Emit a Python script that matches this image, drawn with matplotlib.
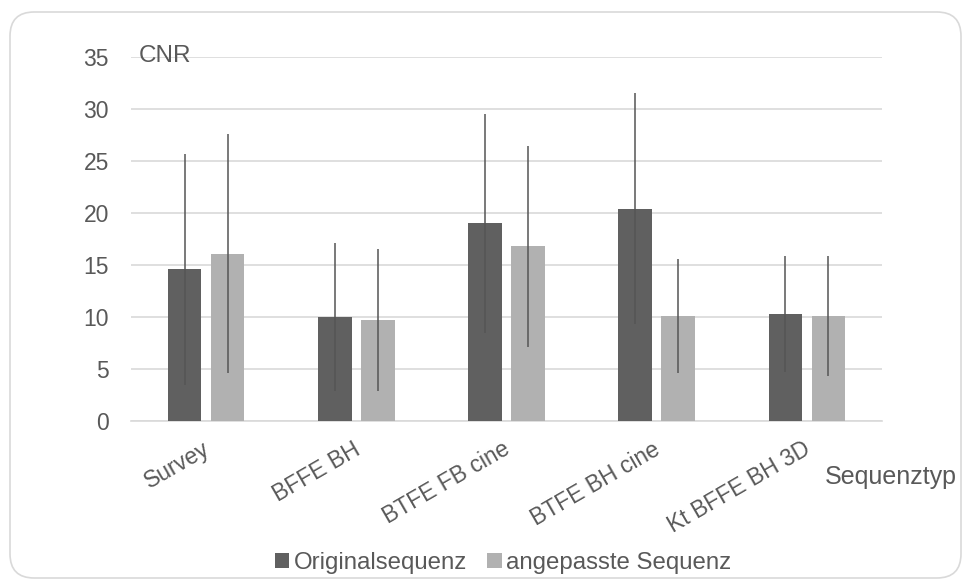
import matplotlib
matplotlib.use("Agg")
import matplotlib.pyplot as plt
import matplotlib.transforms as mtransforms
import numpy as np
from matplotlib.patches import FancyBboxPatch

plt.rcParams['font.family'] = ['Liberation Sans', 'DejaVu Sans']

# Sequence types and CNR values (mean and standard deviation)
categories = ["Survey", "BFFE BH", "BTFE FB cine", "BTFE BH cine", "Kt BFFE BH 3D"]
original_mean = [14.6, 10.0, 19.0, 20.4, 10.3]
original_sd = [11.1, 7.1, 10.5, 11.1, 5.55]
adapted_mean = [16.1, 9.7, 16.8, 10.1, 10.1]
adapted_sd = [11.45, 6.8, 9.65, 5.5, 5.75]
series_names = ["Originalsequenz", "angepasste Sequenz"]
y_ticks = [0, 5, 10, 15, 20, 25, 30, 35]

dark = "#606060"
light = "#b1b1b1"
text_col = "#595959"
grid_col = "#d9d9d9"

fig = plt.figure(figsize=(9.65, 5.8), dpi=100)
fig.patch.set_facecolor("white")

# rounded chart-area frame
frame = FancyBboxPatch((10 / 965, 2 / 580), 951 / 965, 566 / 580,
                       boxstyle="round,pad=0,rounding_size=0.025",
                       transform=fig.transFigure, facecolor="none",
                       edgecolor=grid_col, linewidth=1.2, mutation_aspect=965 / 580)
fig.patches.append(frame)

ax = fig.add_axes([131 / 965, 1 - 421 / 580, 751 / 965, 364 / 580])
x = np.arange(len(categories))
w = 0.224
off = 0.143

err_kw = dict(ecolor="#555555", elinewidth=1.1, capsize=0)
ax.bar(x - off, original_mean, w, color=dark, yerr=original_sd,
       error_kw=err_kw, label=series_names[0], zorder=3)
ax.bar(x + off, adapted_mean, w, color=light, yerr=adapted_sd,
       error_kw=err_kw, label=series_names[1], zorder=3)

ax.set_xlim(-0.5, len(categories) - 0.5)
ax.set_ylim(0, 35)
ax.set_yticks(y_ticks)
ax.yaxis.grid(True, color=grid_col, linewidth=1.2, zorder=0)
ax.set_axisbelow(True)
for s in ["top", "right", "left"]:
    ax.spines[s].set_visible(False)
ax.spines["bottom"].set_color(grid_col)
ax.spines["bottom"].set_linewidth(1.2)
ax.tick_params(axis="both", length=0, colors=text_col, labelsize=16.5)
ax.tick_params(axis="y", pad=16)

ax.set_xticks(x)
ax.set_xticklabels(categories, rotation=30, ha="right", va="top",
                   rotation_mode="anchor")
ax.tick_params(axis="x", pad=12)
shift = mtransforms.ScaledTranslation(-4 / 100, 0, fig.dpi_scale_trans)
for lbl in ax.get_xticklabels():
    lbl.set_transform(lbl.get_transform() + shift)

fig.text(139 / 965, 1 - 62 / 580, "CNR", ha="left", va="baseline",
         fontsize=17.5, color=text_col)
fig.text(825 / 965, 1 - 484 / 580, "Sequenztyp", ha="left", va="baseline",
         fontsize=18, color=text_col)

fig.legend(loc="center", bbox_to_anchor=(503 / 965, 1 - 563 / 580),
           ncol=2, frameon=False, fontsize=17.3, handlelength=0.6,
           handleheight=0.6, handletextpad=0.18, columnspacing=0.85,
           labelcolor=text_col)

fig.savefig("out.png", dpi=100, facecolor="white")
